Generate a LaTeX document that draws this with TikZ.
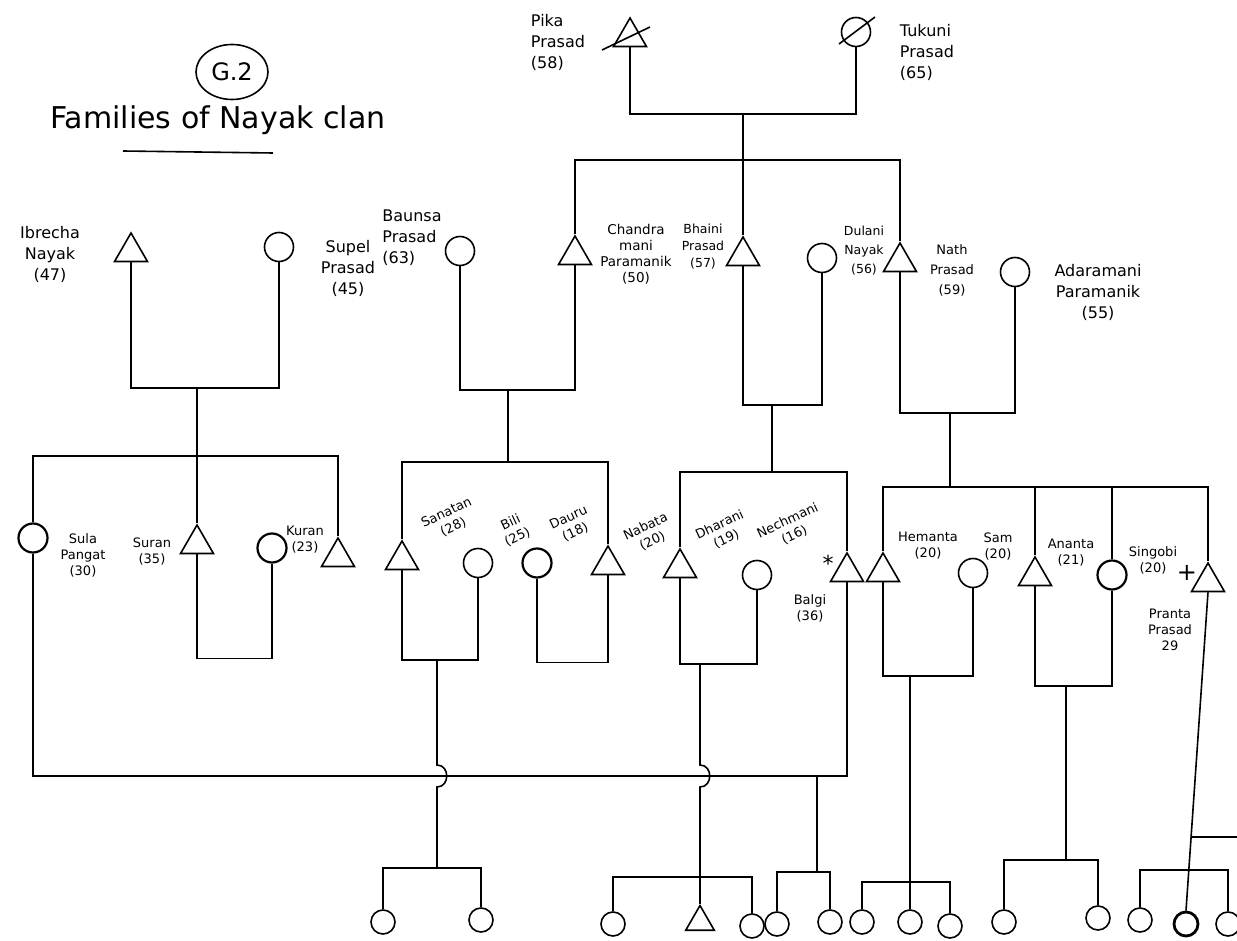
\documentclass[tikz,border=0pt]{standalone}
\usepackage{fontspec}
\setmainfont{DejaVu Sans}
\usetikzlibrary{shapes.geometric}

\begin{document}
\begin{tikzpicture}[x=1pt,y=-1pt,line width=1.6pt,
  male/.style={draw, regular polygon, regular polygon sides=3, minimum size=38pt, inner sep=0pt},
  female/.style={draw, circle, minimum size=29pt, inner sep=0pt},
  kid/.style={draw, circle, minimum size=24pt, inner sep=0pt},
  kidmale/.style={male, minimum size=33pt},
  lab/.style={align=center, inner sep=0pt, font=\fontsize{16}{21}\selectfont},
  smalllab/.style={align=center, inner sep=0pt, font=\fontsize{13}{16}\selectfont},
  tilted/.style={smalllab, rotate=25},
  bump/.style={to path={-- (\tikztostart |- lineAbove) .. controls +(13,0) and +(13,0) .. (\tikztostart |- lineBelow) -- (\tikztotarget)}}]
\fill[white] (0,0) rectangle (1237,941);
\useasboundingbox (0,0) rectangle (1237,941);
\coordinate (lineAbove) at (0,765);
\coordinate (lineBelow) at (0,787);

\node[draw, ellipse, minimum width=72pt, minimum height=55pt, font=\fontsize{24}{26}\selectfont] (gTwo) at (232,72) {G.2};
\node[font=\fontsize{30}{32}\selectfont] (title) at (218,120) {Families of Nayak clan};
\draw ([shift={(-95,31)}]title.center) -- ([shift={(55,33)}]title.center);

\node[male] (pika) at (630,37) {};
\node[lab, align=left] (pikaLab) at (558,42) {Pika\\Prasad\\(58)};
\draw ([shift={(-28,13)}]pika.center) -- ([shift={(20,-10)}]pika.center);
\node[female] (tukuni) at (856,32) {};
\node[lab, align=left] (tukuniLab) at (927,52) {Tukuni\\Prasad\\(65)};
\draw ([shift={(-17,12)}]tukuni.center) -- ([shift={(19,-15)}]tukuni.center);
\coordinate (pikaTukuni) at (743,114);
\draw (pika.side 2) |- (pikaTukuni) -| (tukuni.south);
\coordinate (sibPika) at (743,160);
\draw (pikaTukuni) -- (sibPika);

\node[male] (ibrecha) at (131,252) {};
\node[lab] (ibrechaLab) at (50,254) {Ibrecha\\Nayak\\(47)};
\node[female] (supel) at (279,247) {};
\node[lab] (supelLab) at (348,268) {Supel\\Prasad\\(45)};
\coordinate (ibrechaSupel) at (197,388);
\draw (ibrecha.side 2) |- (ibrechaSupel) -| (supel.south);

\node[female] (baunsa) at (460,251) {};
\node[lab, align=left] (baunsaLab) at (412,238) {Baunsa\\Prasad\\(63)};
\node[male] (chandra) at (575,255) {};
\node[lab, font=\fontsize{13.5}{16}\selectfont] (chandraLab) at (636,254) {Chandra\\mani\\Paramanik\\(50)};
\node[male] (bhaini) at (743,256) {};
\node[lab, font=\fontsize{12.5}{17}\selectfont] (bhainiLab) at (703,247) {Bhaini\\Prasad\\(57)};
\node[female] (dulani) at (822,258) {};
\node[lab, font=\fontsize{12.5}{19}\selectfont] (dulaniLab) at (864,251) {Dulani\\Nayak\\(56)};
\node[male] (nath) at (900,262) {};
\node[lab, font=\fontsize{13}{20}\selectfont] (nathLab) at (952,270) {Nath\\Prasad\\(59)};
\node[female] (adara) at (1015,272) {};
\node[lab] (adaraLab) at (1098,292) {Adaramani\\Paramanik\\(55)};
\draw (chandra.corner 1) |- (sibPika) -| (nath.corner 1);
\draw (sibPika) -- (bhaini.corner 1);

\coordinate (baunsaChandra) at (508,390);
\draw (baunsa.south) |- (baunsaChandra) -| (chandra.side 2);
\coordinate (bhainiDulani) at (772,405);
\draw (bhaini.side 2) |- (bhainiDulani) -| (dulani.south);
\coordinate (nathAdara) at (950,413);
\draw (nath.side 2) |- (nathAdara) -| (adara.south);

\coordinate (sibIbrecha) at (197,456);
\coordinate (sibBaunsa) at (508,462);
\coordinate (sibBhaini) at (772,472);
\coordinate (sibNath) at (950,487);
\draw (ibrechaSupel) -- (sibIbrecha);
\draw (baunsaChandra) -- (sibBaunsa);
\draw (bhainiDulani) -- (sibBhaini);
\draw (nathAdara) -- (sibNath);

\node[female, line width=2.2pt] (sula) at (33,538) {};
\node[smalllab] (sulaLab) at (83,555) {Sula\\Pangat\\(30)};
\node[male] (suran) at (197,544) {};
\node[smalllab] (suranLab) at (152,552) {Suran\\(35)};
\node[female, line width=2.2pt] (suranWife) at (272,548) {};
\node[male] (kuran) at (338,557) {};
\node[smalllab] (kuranLab) at (305,540) {Kuran\\(23)};
\draw (sula.north) |- (sibIbrecha) -| (kuran.corner 1);
\draw (sibIbrecha) -- (suran.corner 1);
\draw (suran.side 2) -- ++(0,104) -| (suranWife.south);

\node[male] (sanatan) at (402,560) {};
\node[tilted] (sanatanLab) at (450,520) {Sanatan\\(28)};
\node[female] (bili) at (478,563) {};
\node[tilted] (biliLab) at (514,530) {Bili\\(25)};
\node[female, line width=2.2pt] (dauru) at (537,563) {};
\node[tilted] (dauruLab) at (572,525) {Dauru\\(18)};
\node[male] (nabata) at (608,565) {};
\node[tilted] (nabataLab) at (649,534) {Nabata\\(20)};
\draw (sanatan.corner 1) |- (sibBaunsa) -| (nabata.corner 1);
\coordinate (sanatanBili) at (437,660);
\draw (sanatan.side 2) |- (sanatanBili) -| (bili.south);
\draw (dauru.south) -- ++(0,84) -| (nabata.side 2);

\node[male] (dharani) at (680,568) {};
\node[tilted] (dharaniLab) at (723,532) {Dharani\\(19)};
\node[female] (nechmani) at (757,575) {};
\node[tilted] (nechmaniLab) at (791,528) {Nechmani\\(16)};
\node[font=\fontsize{22}{22}\selectfont] (star) at (828,563) {*};
\node[male] (balgi) at (847,572) {};
\node[smalllab] (balgiLab) at (810,608) {Balgi\\(36)};
\draw (dharani.corner 1) |- (sibBhaini) -| (balgi.corner 1);
\coordinate (dharaniNech) at (700,664);
\draw (dharani.side 2) |- (dharaniNech) -| (nechmani.south);

\node[male] (hemanta) at (883,572) {};
\node[smalllab] (hemantaLab) at (928,546) {Hemanta\\(20)};
\node[female] (sam) at (973,573) {};
\node[smalllab] (samLab) at (998,547) {Sam\\(20)};
\node[male] (ananta) at (1035,576) {};
\node[smalllab] (anantaLab) at (1071,553) {Ananta\\(21)};
\node[female, line width=2.2pt] (singobi) at (1112,575) {};
\node[smalllab] (singobiLab) at (1153,560) {Singobi\\(20)};
\node[font=\fontsize{24}{24}\selectfont] (plus) at (1187,573) {+};
\node[male] (pranta) at (1208,582) {};
\node[smalllab] (prantaLab) at (1170,630) {Pranta\\Prasad\\29};
\draw (hemanta.corner 1) |- (sibNath) -| (pranta.corner 1);
\draw (ananta.corner 1) -- (ananta.corner 1 |- sibNath);
\draw (singobi.north) -- (singobi.north |- sibNath);
\coordinate (hemantaSam) at (910,676);
\draw (hemanta.side 2) |- (hemantaSam) -| (sam.south);
\coordinate (anantaSingobi) at (1066,686);
\draw (ananta.side 2) |- (anantaSingobi) -| (singobi.south);

\coordinate (sulaBalgi) at (847,776);
\draw (sula.south) |- (sulaBalgi) -- (balgi.side 2);

\coordinate (sibA) at (437,868);
\coordinate (sibB) at (700,877);
\coordinate (sibC) at (817,872);
\coordinate (sibD) at (910,882);
\coordinate (sibE) at (1066,860);
\coordinate (sibF) at (1189,870);
\draw (sanatanBili) to[bump] (sibA);
\draw (dharaniNech) to[bump] (sibB);
\draw (sibC |- sulaBalgi) -- (sibC);
\draw (hemantaSam) -- (sibD);
\draw (anantaSingobi) -- (sibE);

\node[kid] (kidA1) at (383,922) {};
\node[kid] (kidA2) at (481,920) {};
\draw (kidA1.north) |- (sibA) -| (kidA2.north);
\node[kid] (kidB1) at (613,924) {};
\node[kidmale] (kidB2) at (700,922) {};
\node[kid] (kidB3) at (752,926) {};
\draw (kidB1.north) |- (sibB) -| (kidB3.north);
\draw (sibB) -- (kidB2.corner 1);
\node[kid] (kidC1) at (777,924) {};
\node[kid] (kidC2) at (830,922) {};
\draw (kidC1.north) |- (sibC) -| (kidC2.north);
\node[kid] (kidD1) at (862,922) {};
\node[kid] (kidD2) at (910,922) {};
\node[kid] (kidD3) at (950,926) {};
\draw (kidD1.north) |- (sibD) -| (kidD3.north);
\draw (sibD) -- (kidD2.north);
\node[kid] (kidE1) at (1004,922) {};
\node[kid] (kidE2) at (1098,918) {};
\draw (kidE1.north) |- (sibE) -| (kidE2.north);
\node[kid, line width=2.8pt] (kidF2) at (1186,924) {};
\node[kid] (kidF1) at (1140,920) {};
\node[kid] (kidF3) at (1228,924) {};
\coordinate (prantaWed) at (1191,837);
\coordinate (offPage) at (1237,837);
\draw (pranta.side 2) -- (kidF2.north);
\draw (prantaWed) -- (offPage);
\draw (kidF1.north) |- (sibF) -| (kidF3.north);
\end{tikzpicture}
\end{document}
